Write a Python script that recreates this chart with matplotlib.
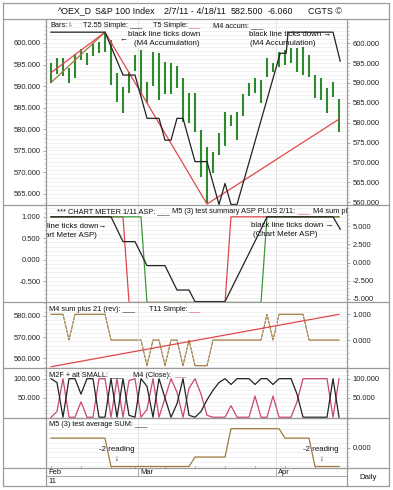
import numpy as np
import matplotlib
matplotlib.use("Agg")
import matplotlib.pyplot as plt
from matplotlib.ticker import MultipleLocator, FormatStrFormatter

plt.rcParams['font.family'] = ['Liberation Sans', 'DejaVu Sans']

W, H = 393, 490

# price bars, one per trading day 2/7/11 - 4/18/11 as drawn on the chart
bar_high = [595.1, 596.4, 596.4, 593.9, 597.3, 598.5, 597.6, 600.2, 600.4, 602.6,
            600.8, 592.5, 589.0, 592.8, 597.1, 598.3, 590.3, 597.8, 597.6, 595.3,
            595.0, 594.3, 591.3, 587.5, 587.5, 578.2, 573.9, 572.6, 577.4, 582.7,
            581.9, 582.7, 587.2, 590.0, 591.3, 590.8, 596.3, 595.0, 597.8, 598.3,
            598.8, 598.8, 599.1, 597.1, 592.0, 591.3, 588.7, 590.3, 586.0]
bar_low = [590.1, 592.2, 591.8, 590.1, 591.2, 595.8, 594.5, 596.9, 597.5, 597.8,
           589.5, 585.2, 582.4, 587.5, 593.0, 587.0, 585.0, 589.2, 585.7, 587.2,
           587.2, 588.7, 580.2, 579.9, 577.7, 566.3, 559.8, 567.3, 571.9, 574.1,
           579.2, 575.6, 581.7, 586.7, 587.5, 585.0, 591.5, 592.8, 594.0, 594.5,
           595.0, 592.8, 592.0, 591.5, 586.2, 585.7, 582.4, 586.5, 577.7]
idx = np.arange(len(bar_high))

month_names = ['Feb', 'Mar', 'Apr']
month_start = [0, 15, 38]
week_start = [0, 5, 10, 14, 19, 24, 29, 34, 39, 44]

# panel 1 lines (vertices: bar index, value)
t255_x = [0, 9]
t255_y = [590.1, 602.8]
t5_x = [0, 9, 26, 48]
t5_y = [592.6, 602.8, 559.5, 580.9]
m4acc_x = [0, 9, 12, 14, 16, 18, 19, 20, 21, 22, 24, 26, 28, 29, 30, 31, 38.2, 39.2, 39.5, 47, 48.2]
m4acc_y = [602.8, 602.8, 592.0, 592.0, 581.1, 581.1, 575.6, 575.6, 581.1, 581.1,
           570.2, 570.2, 559.4, 564.7, 559.4, 559.4, 597.5, 597.5, 602.8, 602.8, 595.5]

# panel 2
meter_red = [1] * 13 + [-1] * 17 + [1] * 19
meter_green = [1] * 16 + [-1] * 20 + [1] * 13
meter_blk_x = [0, 10, 12, 14, 16, 19, 21, 23, 24, 29, 35, 36, 47, 48.2]
meter_blk_y = [1, 1, 0.42, 0.42, -0.14, -0.14, -0.71, -0.71, -0.98, -0.98, 0.71, 1, 1, 0.71]

# panel 3
m4sum = [1, 1, 1, 0, 1, 1, 1, 1, 1, 1, 0, 0, 0, 0, 0, 0, -1, 0, 0, -1,
         0, 0, -1, 0, -1, -1, -1, 0, 0, 0, 0, 0, 0, 0, 0, 0, 1, 0, 1, 1,
         1, 1, 1, 0, 0, 0, 0, 0, 0]
t11_x = [0, 48]
t11_y = [556.0, 580.7]

# panel 4
m2f = [100, 90, 0, 100, 100, 60, 100, 100, 0, 0,
       100, 0, 100, 5, 0, 100, 80, 0, 100, 50,
       0, 35, 100, 5, 0, 15, 45, 70, 90, 100,
       85, 100, 100, 100, 85, 100, 100, 85, 100, 100,
       100, 60, 0, 0, 0, 0, 0, 100, 0]
m4close = [0, 15, 100, 0, 0, 40, 0, 0, 100, 100,
           0, 100, 0, 95, 100, 0, 20, 100, 0, 50,
           100, 65, 0, 75, 100, 60, 5, 0, 0, 0,
           30, 0, 0, 0, 55, 0, 0, 55, 0, 0,
           0, 40, 100, 100, 100, 100, 100, 0, 100]

# panel 5
m5avg = [1] * 10 + [-2] * 14 + [-1] * 6 + [2] * 9 + [1] * 5 + [-2] * 5

GREEN = '#2f8a2f'
RED = '#e0474c'
OLIVE = '#9d7a3e'
PINK = '#c8467a'
FRAME = '#9a9a9a'
FS = 5.4
LS = 5.3

fig = plt.figure(figsize=(W / 100, H / 100), dpi=100)
XL = (-0.833, 49.33)


def panel(y0, y1):
    ax = fig.add_axes([46 / W, 1 - y1 / H, 301 / W, (y1 - y0) / H])
    ax.set_xlim(*XL)
    ax.set_xticks([])
    for s in ax.spines.values():
        s.set_visible(False)
    for m in month_start[1:]:
        ax.axvline(m - 0.5, color='#dddddd', lw=0.6, zorder=0)
    return ax


def twin(ax):
    t = ax.twinx()
    t.set_xlim(*XL)
    for s in t.spines.values():
        s.set_visible(False)
    return t


def style(ax, side, ylim, ticks, minor=None):
    ax.set_ylim(*ylim)
    ax.yaxis.set_ticks_position(side)
    ax.set_yticks(ticks)
    if minor:
        ax.yaxis.set_minor_locator(MultipleLocator(minor))
    ax.yaxis.set_major_formatter(FormatStrFormatter('%.3f'))
    ax.tick_params(axis='y', which='major', labelsize=FS, length=2.5, width=0.5,
                   color='#888888', labelcolor='#222222', pad=1.5)
    ax.tick_params(axis='y', which='minor', length=1.5, width=0.4, color='#aaaaaa')


def hgrid(ax, lo, hi, step):
    for v in np.arange(lo, hi + 1e-9, step):
        ax.axhline(v, color='#ececec', lw=0.5, zorder=0)


# ---- panel 1: price bars
ax1 = panel(19, 205)
ax1l = twin(ax1)
style(ax1, 'right', (559.27, 606.12), np.arange(560, 601, 5), 1)
style(ax1l, 'left', (562.45, 605.56), np.arange(565, 601, 5), 1)
hgrid(ax1, 560, 606, 1)
ax1.vlines(idx, bar_low, bar_high, color=GREEN, lw=1.5, zorder=3)
ax1.plot(t255_x, t255_y, color=OLIVE, lw=0.9, zorder=4)
ax1.plot(t5_x, t5_y, color=RED, lw=0.9, zorder=4)
ax1.plot(m4acc_x, m4acc_y, color='#222222', lw=0.9, zorder=5)
ax1.set_zorder(ax1l.get_zorder() + 1)
ax1.patch.set_visible(False)

# ---- panel 2: chart meter
ax2 = panel(205, 302)
ax2r = twin(ax2)
style(ax2, 'left', (-0.99, 1.276), [-0.5, 0, 0.5, 1.0], 0.1)
style(ax2r, 'right', (-5.43, 7.91), [-5, -2.5, 0, 2.5, 5], 0.5)
hgrid(ax2, -1.0, 1.25, 0.1)
ax2.plot(idx, meter_red, color=RED, lw=0.9, zorder=3)
ax2.plot(idx, meter_green, color='#3a9a3a', lw=0.9, zorder=3)
ax2.plot(meter_blk_x, meter_blk_y, color='#222222', lw=0.9, zorder=4)
ax2.set_zorder(ax2r.get_zorder() + 1)
ax2.patch.set_visible(False)

# ---- panel 3
ax3 = panel(302, 368)
ax3r = twin(ax3)
style(ax3, 'left', (555.4, 586.5), [560, 570, 580], 2)
style(ax3r, 'right', (-1.09, 1.48), [0, 1], 0.25)
hgrid(ax3, 556, 584, 2)
ax3r.plot(idx, m4sum, color=OLIVE, lw=0.9, zorder=3)
ax3.plot(t11_x, t11_y, color=RED, lw=0.9, zorder=4)
ax3.set_zorder(ax3r.get_zorder() + 1)
ax3.patch.set_visible(False)

# ---- panel 4
ax4 = panel(368, 418)
ax4r = twin(ax4)
style(ax4, 'left', (-2, 127.7), [50, 100], 10)
style(ax4r, 'right', (-2, 127.7), [50, 100], 10)
hgrid(ax4, 0, 120, 10)
ax4.plot(idx, m4close, color=PINK, lw=0.9, zorder=3)
ax4.plot(idx, m2f, color='#222222', lw=0.9, zorder=4)

# ---- panel 5
ax5 = panel(418, 468)
ax5r = twin(ax5)
style(ax5, 'left', (-2.16, 3.13), [])
style(ax5r, 'right', (-2.16, 3.13), [0], 0.5)
hgrid(ax5, -2, 3, 0.5)
ax5.plot(idx, m5avg, color=OLIVE, lw=0.9, zorder=3)

# ---- texts inside panels
ak = dict(fontsize=5.7, color='#111111', clip_on=True, va='center')


def label(ax, x, y, s, color='#111111', **kw):
    ax.text((x - 46) / 301, y, s, transform=ax.transAxes, fontsize=LS, color=color,
            clip_on=True, va='center', **kw)


label(ax1, 50, 0.965, 'Bars:')
label(ax1, 68, 0.965, 'I-', color=GREEN)
label(ax1, 83, 0.965, 'T2.55 Simple: ___')
label(ax1, 153, 0.965, 'T5 Simple:')
label(ax1, 188, 0.965, '___', color=RED)
label(ax1, 213, 0.965, 'M4 accum: ___')
ax1.text(0.245, 0.888, '\u2190', transform=ax1.transAxes, **ak)
ax1.text(0.272, 0.914, 'black line ticks down', transform=ax1.transAxes, **ak)
ax1.text(0.400, 0.866, '(M4 Accumulation)', transform=ax1.transAxes, ha='center', **ak)
ax1.text(0.676, 0.914, 'black line ticks down \u2192', transform=ax1.transAxes, **ak)
ax1.text(0.788, 0.866, '(M4 Accumulation)', transform=ax1.transAxes, ha='center', **ak)

label(ax2, 57, 0.93, '*** CHART METER 1/11 ASP: ___')
label(ax2, 172, 0.93, 'M5 (3) test summary ASP PLUS 2/11:')
label(ax2, 297, 0.93, '___', color=RED)
label(ax2, 313, 0.93, 'M4 sum plus')
# left note runs off the plot edge; only its tail is visible
ax2.text(0.2, 0.78, 'line ticks down\u2192', transform=ax2.transAxes, ha='right', **ak)
ax2.text(0.17, 0.69, 'art Meter ASP)', transform=ax2.transAxes, ha='right', **ak)
ax2.text(0.68, 0.79, 'black line ticks down \u2192', transform=ax2.transAxes, **ak)
ax2.text(0.795, 0.70, '(Chart Meter ASP)', transform=ax2.transAxes, ha='center', **ak)

label(ax3, 49, 0.88, 'M4 sum plus 21 (rev): ___')
label(ax3, 149, 0.88, 'T11 Simple:')
label(ax3, 188, 0.88, '___', color=RED)

label(ax4, 49, 0.86, 'M2F + alt SMALL: ___')
label(ax4, 133, 0.86, 'M4 (Close):')
label(ax4, 174, 0.86, '___', color=PINK)

label(ax5, 49, 0.88, 'M5 (3) test average SUM: ___')
ax5.text(0.176, 0.37, '-2 reading', transform=ax5.transAxes, **ak)
ax5.text(0.236, 0.18, '\u2193', transform=ax5.transAxes, ha='center', **ak)
ax5.text(0.854, 0.37, '-2 reading', transform=ax5.transAxes, **ak)
ax5.text(0.917, 0.18, '\u2193', transform=ax5.transAxes, ha='center', **ak)

# ---- frame, header and date row
ov = fig.add_axes([0, 0, 1, 1])
ov.set_xlim(0, W)
ov.set_ylim(H, 0)
ov.axis('off')
ov.patch.set_visible(False)
ov.set_zorder(10)
lk = dict(color=FRAME, lw=0.9)
ov.plot([3, 389, 389, 3, 3], [3, 3, 486, 486, 3], **lk)
for y in [19, 205, 302, 368, 418, 468]:
    ov.plot([3, 389], [y, y], **lk)
ov.plot([46, 46], [19, 486], **lk)
ov.plot([347, 347], [19, 486], **lk)
ov.plot([46, 347], [476, 476], color=FRAME, lw=0.6)

hdr = dict(fontsize=6.4, color='#111111', va='center')
ov.text(58, 11.5, '^OEX_D', **hdr)
ov.text(95, 11.5, 'S&P 100 Index', **hdr)
ov.text(164, 11.5, '2/7/11 - 4/18/11', **hdr)
ov.text(231, 11.5, '582.500', **hdr)
ov.text(268, 11.5, '-6.060', **hdr)
ov.text(308, 11.5, 'CGTS \u00a9', **hdr)
ov.text(368, 477, 'Daily', fontsize=5.6, color='#111111', ha='center', va='center')


def xmap(i):
    return 46 + (i - XL[0]) / (XL[1] - XL[0]) * 301


for k, (name, m) in enumerate(zip(month_names, month_start)):
    px = xmap(m - 0.5) if k else 46
    if k:
        ov.plot([px, px], [468, 476], color=FRAME, lw=0.6)
    ov.text(px + 2, 472.3, name, fontsize=5.4, color='#111111', va='center')
ov.text(48, 481, '11', fontsize=5.4, color='#111111', va='center')
for i in week_start:
    px = xmap(i)
    ov.plot([px, px], [466, 468], color='#888888', lw=0.5)

fig.savefig('out.png', dpi=100)
